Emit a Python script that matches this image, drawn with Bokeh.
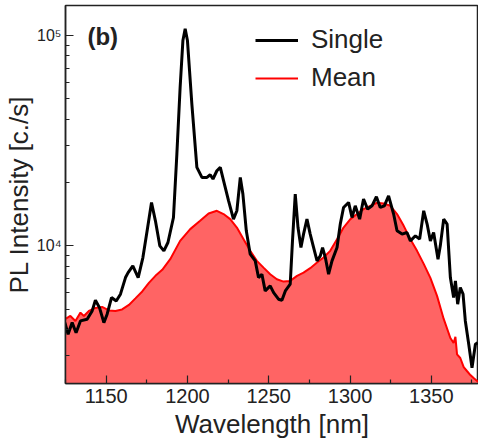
from bokeh.plotting import figure
from bokeh.models import (FixedTicker, CustomJSTickFormatter, Legend, LegendItem,
                          Label, Range1d)
from bokeh.embed import file_html
from bokeh.resources import INLINE

# ---- data ----
single_wl = [1124.6, 1126.6, 1129.1, 1131.5, 1134.2, 1138.3, 1141.4, 1143.4, 1145.9, 1148.6,
             1150.6, 1153.3, 1156.2, 1158.8, 1161.9, 1163.5, 1166.4, 1169.7, 1172.6, 1175.2,
             1177.9, 1180.3, 1183.0, 1185.5, 1188.0, 1191.4, 1193.5, 1195.5, 1197.2, 1198.6,
             1200.0, 1202.7, 1205.8, 1208.9, 1212.0, 1214.0, 1215.7, 1218.1, 1220.2, 1222.2,
             1225.3, 1228.3, 1230.4, 1232.5, 1234.1, 1236.2, 1238.6, 1241.7, 1243.7, 1245.8,
             1247.8, 1250.9, 1253.0, 1256.0, 1258.1, 1260.2, 1263.2, 1264.6, 1266.3, 1268.0,
             1269.8, 1271.4, 1273.5, 1275.5, 1277.6, 1279.7, 1281.7, 1283.1, 1284.8, 1286.8,
             1288.9, 1292.0, 1294.0, 1296.0, 1299.1, 1301.2, 1303.2, 1305.9, 1308.3, 1310.8,
             1313.5, 1316.2, 1318.6, 1321.1, 1323.7, 1326.8, 1328.9, 1332.0, 1335.0, 1337.1,
             1340.2, 1342.8, 1345.3, 1347.4, 1349.4, 1351.4, 1354.1, 1355.5, 1357.6, 1359.7,
             1361.7, 1363.7, 1364.8, 1366.2, 1367.8, 1369.5, 1370.9, 1373.0, 1375.0, 1377.1,
             1378.5]
single_int = [4315, 3797, 4315, 3864, 4395, 4477, 4903, 5513, 5083, 4315,
              4729, 5675, 5470, 5890, 7065, 7460, 8030, 7065, 8797, 11790,
              16080, 13150, 10000, 9466, 10370, 13640, 27350, 56750, 94650, 107700,
              94650, 47300, 23600, 21150, 21150, 21780, 20790, 22750, 23600, 20400,
              16380, 13400, 14680, 21150, 17630, 11790, 9130, 8483, 7065, 7330,
              6105, 6450, 5990, 5575, 5513, 6105, 6570, 10560, 17630, 12220,
              9815, 11370, 13400, 11370, 9815, 8483, 8960, 9815, 8797, 7330,
              8483, 9815, 12690, 15220, 16080, 13640, 15500, 13400, 16690, 14950,
              15500, 17120, 15220, 15500, 17300, 14160, 11790, 11370, 11570, 10560,
              11160, 10760, 14680, 12690, 10560, 11570, 8640, 10000, 13400, 12690,
              7065, 5675, 6810, 5277, 6330, 5900, 4395, 3403, 2634, 3403,
              3463]

mean_wl = [1125.0, 1128.0, 1131.1, 1134.2, 1136.3, 1139.4, 1143.4, 1147.5, 1151.7, 1155.7,
           1159.8, 1164.0, 1168.0, 1172.2, 1176.3, 1180.3, 1184.5, 1189.4, 1195.5, 1201.7,
           1207.8, 1213.0, 1218.1, 1222.2, 1226.3, 1230.4, 1234.5, 1238.6, 1242.7, 1246.8,
           1250.9, 1255.0, 1259.1, 1263.2, 1267.4, 1271.4, 1275.5, 1279.7, 1283.7, 1287.8,
           1292.0, 1296.0, 1300.2, 1304.3, 1308.3, 1312.5, 1316.6, 1320.6, 1324.8, 1328.9,
           1333.0, 1337.1, 1341.2, 1345.3, 1349.4, 1353.5, 1357.6, 1361.7, 1363.7, 1364.8,
           1365.8, 1367.8, 1369.9, 1371.9, 1374.0, 1376.0, 1378.9]
mean_int = [4491, 4642, 4395, 4813, 4642, 4903, 5067, 5122, 4930, 4903,
            4984, 5236, 5623, 6070, 6665, 7200, 7690, 8640, 10560, 12010,
            13150, 14250, 14680, 14160, 13400, 12220, 10760, 9466, 8483, 7880,
            7330, 6940, 6760, 6810, 7200, 7460, 7830, 8325, 8797, 9466,
            10760, 12220, 13400, 14160, 14950, 15500, 16030, 15900, 15500, 14160,
            12450, 10760, 9466, 8210, 7040, 5780, 4491, 3647, 3452, 3690,
            3050, 2928, 2653, 2540, 2430, 2350, 2251]

x_major = [1150, 1200, 1250, 1300, 1350]
x_minor = [1125, 1175, 1225, 1275, 1325, 1375]
y_major = [1e4, 1e5]
y_minor = [2000, 3000, 4000, 5000, 6000, 7000, 8000, 9000,
           20000, 30000, 40000, 50000, 60000, 70000, 80000, 90000]

FONT = "Liberation Sans"
TXT = "#222222"

p = figure(width=478, height=441, y_axis_type="log",
           x_range=Range1d(1125, 1379), y_range=Range1d(2215, 138950),
           output_backend="svg", toolbar_location=None,
           min_border_left=65, min_border_right=0, min_border_top=5, min_border_bottom=58)

p.xgrid.visible = False
p.ygrid.visible = False
p.outline_line_color = TXT
p.outline_line_width = 1.5
p.background_fill_color = "white"
p.border_fill_color = "white"

fill = p.varea(x=mean_wl, y1=100, y2=mean_int, fill_color="#ff6464", fill_alpha=1.0)
red = p.line(mean_wl, mean_int, line_color="#ff0000", line_width=2)
black = p.line(single_wl, single_int, line_color="black", line_width=3)

# axes
p.xaxis.ticker = FixedTicker(ticks=x_major, minor_ticks=x_minor)
p.yaxis.ticker = FixedTicker(ticks=y_major, minor_ticks=y_minor)
p.yaxis.formatter = CustomJSTickFormatter(code="""
const sup = {'0':'\u2070','1':'\u00b9','2':'\u00b2','3':'\u00b3','4':'\u2074','5':'\u2075',
             '6':'\u2076','7':'\u2077','8':'\u2078','9':'\u2079'};
const e = Math.round(Math.log10(tick));
return '10' + String(e).split('').map(c => sup[c]).join('');
""")
for ax in (p.xaxis[0], p.yaxis[0]):
    ax.axis_line_color = TXT
    ax.axis_line_width = 1.5
    ax.major_tick_line_color = TXT
    ax.minor_tick_line_color = TXT
    ax.major_tick_line_width = 1.2
    ax.minor_tick_line_width = 1.2
    ax.major_tick_in = 8
    ax.major_tick_out = 0
    ax.minor_tick_in = 4
    ax.minor_tick_out = 0
    ax.major_label_text_font = FONT
    ax.major_label_text_color = TXT
    ax.axis_label_text_font = FONT
    ax.axis_label_text_color = TXT
    ax.axis_label_text_font_style = "normal"
    ax.axis_label_text_font_size = "26px"

p.xaxis.axis_label = "Wavelength [nm]"
p.xaxis.major_label_text_font_size = "20px"
p.xaxis.major_label_standoff = 5
p.xaxis.axis_label_standoff = 3

p.yaxis.axis_label = "PL Intensity [c./s]"
p.yaxis.major_label_text_font_size = "16px"
p.yaxis.major_label_standoff = 4
p.yaxis.axis_label_standoff = 0

legend = Legend(items=[LegendItem(label="Single", renderers=[black]),
                       LegendItem(label="Mean", renderers=[red])],
                location=(190, 290))
legend.border_line_color = None
legend.background_fill_alpha = 0
legend.label_text_font = FONT
legend.label_text_font_size = "26px"
legend.label_text_color = TXT
legend.glyph_width = 43
legend.glyph_height = 30
legend.label_height = 30
legend.label_standoff = 13
legend.spacing = 7
legend.padding = 0
legend.margin = 0
p.add_layout(legend)

p.add_layout(Label(x=1138.5, y=99000, text="(b)", text_font=FONT, text_font_style="bold",
                   text_font_size="24px", text_baseline="middle", text_color=TXT))

open("out.html", "w").write(file_html(p, INLINE))
